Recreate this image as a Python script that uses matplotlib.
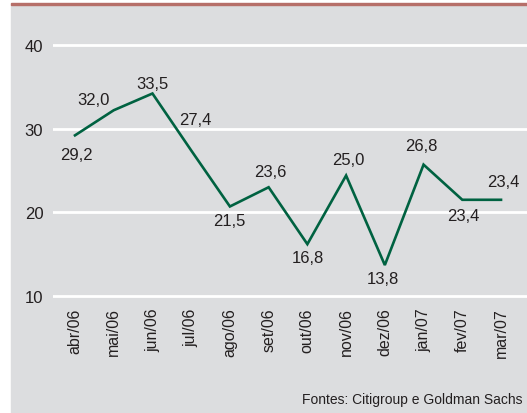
import matplotlib.pyplot as plt
from matplotlib.patches import Rectangle

# data
months = ["abr/06", "mai/06", "jun/06", "jul/06", "ago/06", "set/06",
          "out/06", "nov/06", "dez/06", "jan/07", "fev/07", "mar/07"]
values = [29.2, 32.2, 34.2, 27.4, 20.7, 23.0, 16.2, 24.4, 13.7, 25.7, 21.5, 21.5]
labels = ["29,2", "32,0", "33,5", "27,4", "21,5", "23,6",
          "16,8", "25,0", "13,8", "26,8", "23,4", "23,4"]
# label offsets (points) relative to each point
offsets = [(0.7, -13.7), (-14.4, 7.6), (0, 7.3), (2.9, 22.3), (-0.7, -9.8), (1.4, 11),
           (0.7, -9.3), (1.4, 11.2), (-1.4, -9.4), (-1.4, 14.1), (0.5, -11), (1.4, 13.5)]

W, H = 527, 414
plt.rcParams["font.family"] = ["Liberation Sans", "DejaVu Sans"]

fig = plt.figure(figsize=(W / 100, H / 100), dpi=100)
fig.patch.set_facecolor("white")

# gray panel and red top rule
fig.patches.append(Rectangle((11 / W, 0), 1 - 11 / W, (H - 6) / H,
                             transform=fig.transFigure, color="#dcdddf", zorder=-5))
fig.patches.append(Rectangle((11 / W, (H - 6) / H), 1 - 11 / W, 2.5 / H,
                             transform=fig.transFigure, color="#b66f69", zorder=-5))

# axes placement in pixels
left, right = 53, 527
top_px, bot_px = 37.6, 305.4
ax = fig.add_axes([left / W, (H - bot_px) / H, (right - left) / W, (bot_px - top_px) / H])
ax.set_facecolor("none")

x = list(range(len(months)))
ax.plot(x, values, color="#006241", lw=1.9, solid_joinstyle="miter", zorder=3)

for xi, yi, lab, off in zip(x, values, labels, offsets):
    ax.annotate(lab, (xi, yi), xytext=off, textcoords="offset points",
                ha="center", va="center", fontsize=12, color="#231f20")

ax.set_xlim(-0.568, 11.671)
ax.set_ylim(9, 41)
ax.set_yticks([10, 20, 30, 40])
ax.yaxis.grid(True, color="white", lw=2)
ax.set_axisbelow(True)
ax.set_xticks(x)
ax.set_xticklabels(months, rotation=90, fontsize=11.5, color="#231f20")
ax.tick_params(axis="y", length=0, labelsize=12, colors="#231f20", pad=7)
ax.tick_params(axis="x", length=0, colors="#231f20", pad=2)
for s in ax.spines.values():
    s.set_visible(False)

fig.text(522 / W, 1 - 400 / H, "Fontes: Citigroup e Goldman Sachs",
         ha="right", va="center", fontsize=10, color="#231f20")

fig.savefig("out.png", dpi=100)
